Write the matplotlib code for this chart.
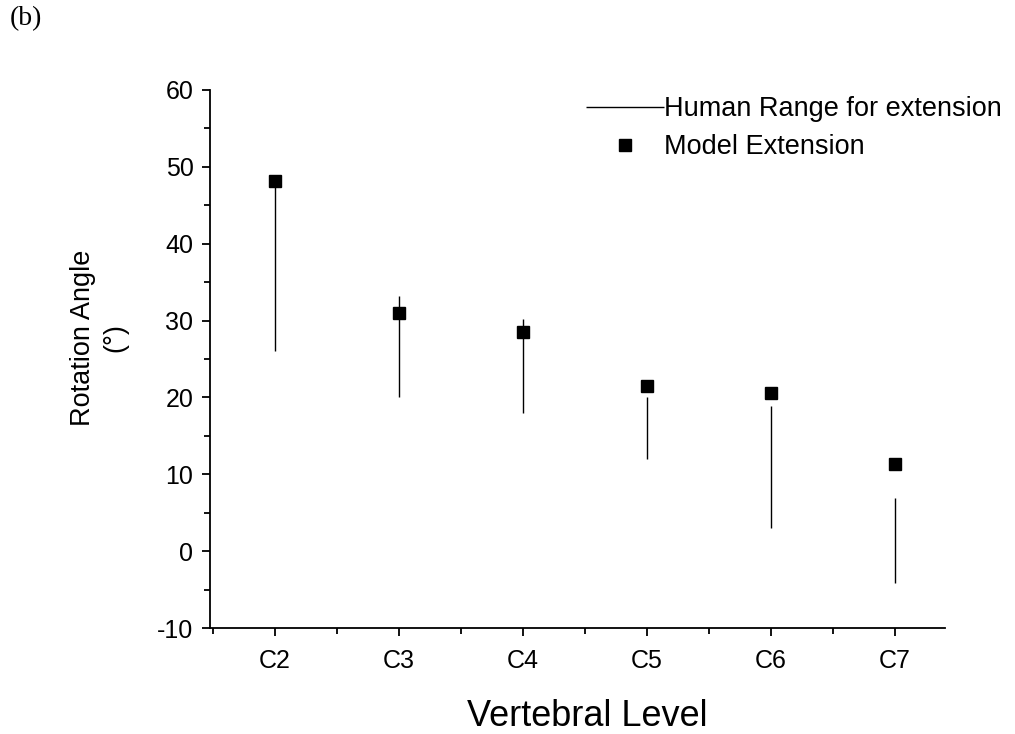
import matplotlib
matplotlib.use("Agg")
import matplotlib.pyplot as plt
import numpy as np
from matplotlib.ticker import MultipleLocator

levels = ["C2", "C3", "C4", "C5", "C6", "C7"]
model_extension = [48.1, 31.0, 28.5, 21.5, 20.6, 11.3]
human_low = [26.0, 20.0, 18.0, 12.0, 3.0, -4.2]
human_high = [48.0, 33.2, 30.2, 20.0, 18.9, 6.9]

plt.rcParams['font.family'] = ['Liberation Sans', 'DejaVu Sans']
plt.rcParams['axes.unicode_minus'] = False

fig = plt.figure(figsize=(10.15, 7.34), dpi=100)
ax = fig.add_axes([0.207, 0.1444, 0.724, 0.7330])

x = np.arange(len(levels)) + 2
ax.vlines(x, human_low, human_high, colors='black', linewidth=1.0,
          label='Human Range for extension')
ax.plot(x, model_extension, linestyle='none', marker='s', markersize=8.5,
        color='black', label='Model Extension')

ax.set_xlim(1.476, 7.403)
ax.set_ylim(-10, 60)
ax.set_xticks(x)
ax.set_xticklabels(levels)
ax.xaxis.set_minor_locator(MultipleLocator(0.5))
ax.yaxis.set_major_locator(MultipleLocator(10))
ax.yaxis.set_minor_locator(MultipleLocator(5))

for s in ['top', 'right']:
    ax.spines[s].set_visible(False)
for s in ['left', 'bottom']:
    ax.spines[s].set_linewidth(1.3)

ax.tick_params(axis='both', which='major', direction='out', length=6, width=1.3,
               labelsize=18, pad=6)
ax.tick_params(axis='x', which='major', pad=9)
ax.tick_params(axis='both', which='minor', direction='out', length=4, width=1.3)

ax.set_xlabel('Vertebral Level', fontsize=26, labelpad=19)
ax.xaxis.label.set_x(0.513)
ax.set_ylabel('Rotation Angle\n(°)', fontsize=19.5, linespacing=1.3)
ax.yaxis.label.set_va('center')
ax.yaxis.set_label_coords((99 - 210) / 735, 0.539)

ax.legend(loc='upper left', bbox_to_anchor=(0.493, 1.014), frameon=False,
          fontsize=19.5, handlelength=2.9, handletextpad=0.0, labelspacing=0.45,
          borderpad=0)

fig.text(0.01, 0.975, '(b)', fontsize=20, family=['Liberation Serif', 'DejaVu Serif'],
         va='center', ha='left')

fig.savefig('out.png', dpi=100)
